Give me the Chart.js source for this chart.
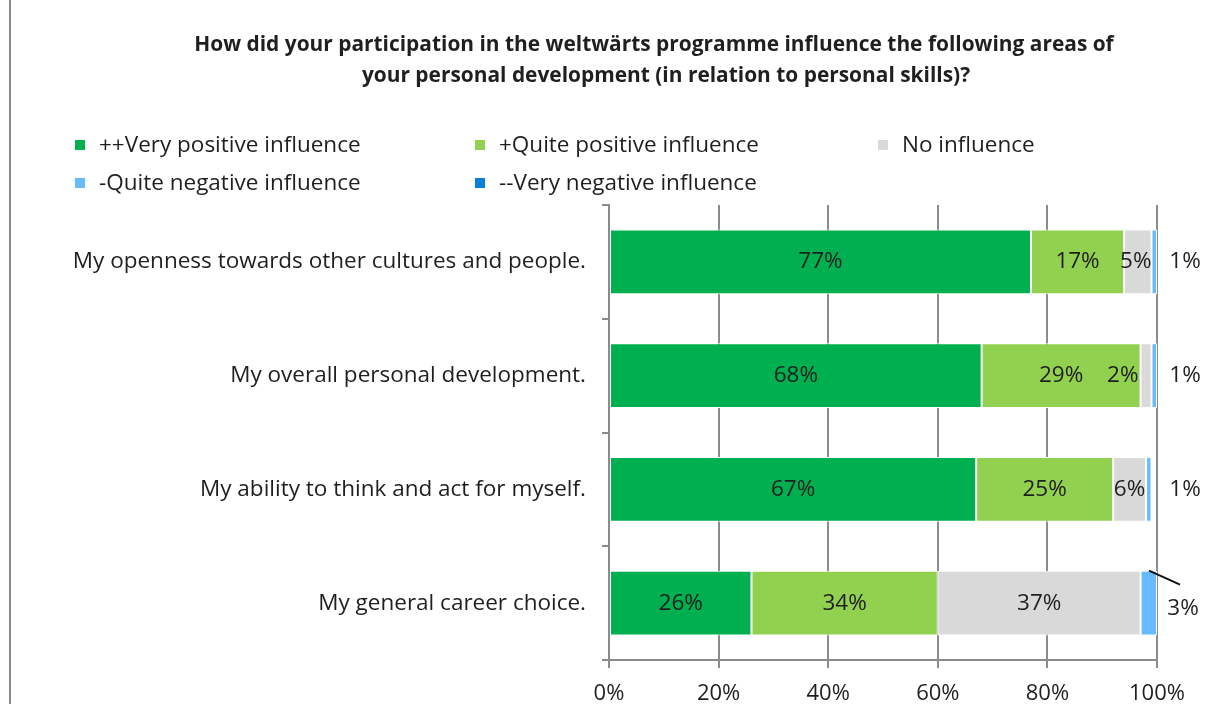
<!DOCTYPE html>
<html>
<head>
<meta charset="utf-8">
<script src="https://cdn.jsdelivr.net/npm/chart.js@4.4.1/dist/chart.umd.min.js"></script>
<style>
  html, body { margin: 0; padding: 0; background: #fff; }
  #wrap { position: relative; width: 1212px; height: 704px; }
  #frame { position: absolute; left: 9px; top: 0; width: 2px; height: 704px; background: #8a8a8a; }
  canvas { position: absolute; left: 0; top: 0; }
</style>
</head>
<body>
<div id="wrap">
  <canvas id="c" width="1212" height="704"></canvas>
  <div id="frame"></div>
</div>
<script>
// Survey items (rows of the stacked bar chart)
const categories = [
  "My openness towards other cultures and people.",
  "My overall personal development.",
  "My ability to think and act for myself.",
  "My general career choice."
];

// Answer shares in percent, one array per answer option
const veryPositive  = [77, 68, 67, 26];
const quitePositive = [17, 29, 25, 34];
const noInfluence   = [5, 2, 6, 37];
const quiteNegative = [1, 1, 1, 3];
const veryNegative  = [0, 0, 0, 0];

const seriesNames = [
  "++Very positive influence",
  "+Quite positive influence",
  "No influence",
  "-Quite negative influence",
  "--Very negative influence"
];
const seriesColors = ["#00B050", "#92D050", "#D9D9D9", "#66BCFF", "#0A7FD6"];

const xTicks = [0, 20, 40, 60, 80, 100];

const titleLines = [
  "How did your participation in the weltwärts programme influence the following areas of",
  "your personal development (in relation to personal skills)?"
];

const FONT = "'Open Sans', Lato, sans-serif";
const TEXT = "#1f1f1f";
const SIZE = 22.5;

const seriesData = [veryPositive, quitePositive, noInfluence, quiteNegative, veryNegative];

// Title and legend block above the plot
const headerPlugin = {
  id: "header",
  afterDraw(chart) {
    const ctx = chart.ctx;
    ctx.save();
    ctx.fillStyle = TEXT;
    ctx.textBaseline = "middle";
    ctx.textAlign = "center";
    ctx.font = "bold 20.9px " + FONT;
    ctx.fillText(titleLines[0], 654, 45);
    ctx.fillText(titleLines[1], 666, 76);

    ctx.font = SIZE + "px " + FONT;
    ctx.textAlign = "left";
    const cols = [75, 475, 878];
    const rows = [146, 184];
    seriesNames.forEach((name, i) => {
      const cx = cols[i % 3];
      const cy = rows[Math.floor(i / 3)];
      ctx.fillStyle = seriesColors[i];
      ctx.fillRect(cx, cy - 6, 10, 10);
      ctx.fillStyle = TEXT;
      ctx.fillText(name, cx + 24, cy);
    });
    ctx.restore();
  }
};

// Value labels on the segments
const valueLabelPlugin = {
  id: "valueLabels",
  afterDatasetsDraw(chart) {
    const ctx = chart.ctx;
    const area = chart.chartArea;
    ctx.save();
    ctx.font = SIZE + "px " + FONT;
    ctx.fillStyle = TEXT;
    ctx.textBaseline = "middle";
    chart.data.datasets.forEach((ds, di) => {
      const meta = chart.getDatasetMeta(di);
      meta.data.forEach((bar, i) => {
        const v = ds.data[i];
        if (!v) return;
        const txt = v + "%";
        const left = Math.min(bar.x, bar.base);
        const right = Math.max(bar.x, bar.base);
        const w = right - left;
        if (di < 3) {
          const tw = ctx.measureText(txt).width;
          ctx.textAlign = "center";
          let x = (left + right) / 2;
          if (tw > 2 * w) x = left - tw / 2 - 2;      // too narrow: sit just before the segment
          else if (tw > w) x = right - tw / 2;         // slightly narrow: flush with segment end
          ctx.fillText(txt, x, bar.y);
        } else {
          ctx.textAlign = "center";
          const lx = area.right + 28;
          if (w > 8) {
            // label set below the bar end with a leader line
            const top = bar.y - bar.height / 2;
            ctx.strokeStyle = "#111";
            ctx.lineWidth = 2;
            ctx.beginPath();
            ctx.moveTo(right - 8, top);
            ctx.lineTo(right + 23, top + 14);
            ctx.stroke();
            ctx.fillText(txt, lx - 2, bar.y + 5);
          } else {
            ctx.fillText(txt, lx, bar.y);
          }
        }
      });
    });
    ctx.restore();
  }
};

new Chart(document.getElementById("c"), {
  type: "bar",
  data: {
    labels: categories,
    datasets: seriesNames.map((name, i) => ({
      label: name,
      data: seriesData[i],
      backgroundColor: seriesColors[i],
      borderColor: "#ffffff",
      borderWidth: 1,
      borderSkipped: false,
      barPercentage: 0.57,
      categoryPercentage: 1
    }))
  },
  options: {
    indexAxis: "y",
    responsive: false,
    animation: false,
    devicePixelRatio: 1,
    layout: { padding: { top: 205, right: 55, bottom: 0, left: 20 } },
    plugins: {
      legend: { display: false },
      title: { display: false },
      tooltip: { enabled: false }
    },
    scales: {
      x: {
        stacked: true,
        min: 0,
        max: 100,
        afterBuildTicks(scale) { scale.ticks = xTicks.map(v => ({ value: v })); },
        afterFit(scale) { scale.height = 44; },
        grid: { color: "#8c8c8c", lineWidth: 2, tickLength: 8, drawOnChartArea: true },
        border: { color: "#8c8c8c", width: 2 },
        ticks: {
          callback: v => v + "%",
          color: TEXT,
          font: { family: FONT, size: 22 },
          padding: 13,
          maxRotation: 0
        }
      },
      y: {
        stacked: true,
        afterFit(scale) { scale.width = 589; },
        grid: { drawOnChartArea: false, color: "#8c8c8c", lineWidth: 2, tickLength: 7, offset: true },
        border: { color: "#8c8c8c", width: 2 },
        ticks: {
          color: TEXT,
          font: { family: FONT, size: SIZE },
          padding: 16
        }
      }
    }
  },
  plugins: [headerPlugin, valueLabelPlugin]
});
</script>
</body>
</html>
